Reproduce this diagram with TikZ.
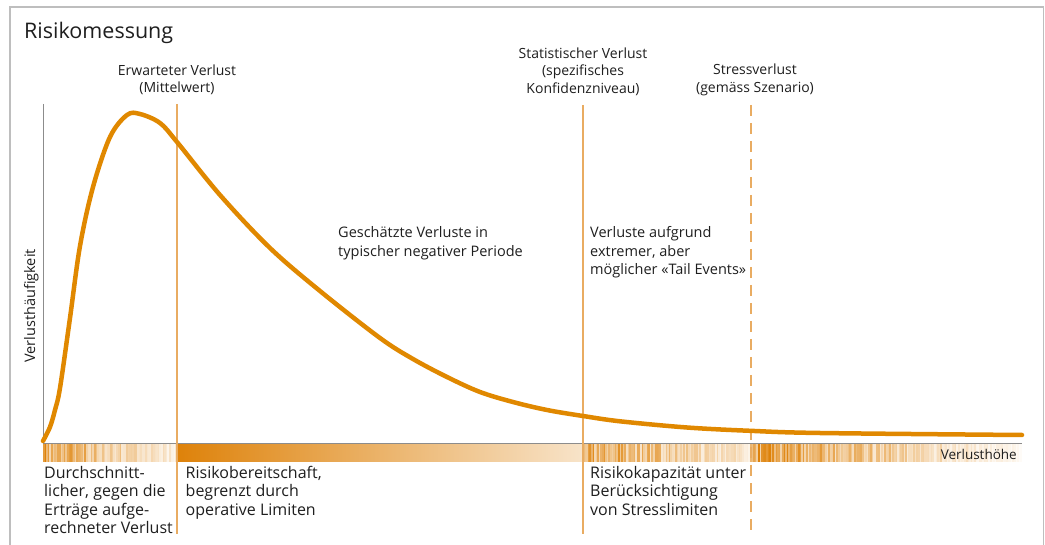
\documentclass[tikz,border=0pt]{standalone}
\usepackage{fontspec}
\setmainfont{Open Sans}
\usetikzlibrary{positioning}
\definecolor{curveorange}{RGB}{224,136,0}
\definecolor{barorange}{RGB}{222,130,10}
\definecolor{lineorange}{RGB}{233,172,98}
\definecolor{framegrey}{RGB}{190,190,190}
\definecolor{axisgrey}{RGB}{140,140,140}
\definecolor{textgrey}{RGB}{30,30,30}
\tikzset{
  toplbl/.style={inner sep=0pt, align=center, anchor=base, text=textgrey,
    font=\fontsize{14}{17.5}\selectfont},
  midlbl/.style={inner sep=0pt, align=left, anchor=base west, text=textgrey,
    font=\fontsize{14.5}{18.5}\selectfont},
  botlbl/.style={inner sep=0pt, align=left, anchor=base west, text=textgrey,
    font=\fontsize{16}{18.4}\selectfont},
  marker/.style={draw=lineorange, line width=1.3pt},
  axis/.style={draw=axisgrey, line width=1pt}
}
\newcommand{\stripeband}[4]{%
  \pgfmathtruncatemacro{\bandn}{(#2-#1)/1.6}
  \foreach \k in {0,...,\bandn}{
    \pgfmathsetmacro{\bt}{\k/\bandn}
    \pgfmathsetmacro{\bx}{#1+\bt*(#2-#1-1.6)}
    \pgfmathsetmacro{\bp}{min(100,max(2,(#3+(#4-#3)*\bt)*(0.35+0.9*rnd)))}
    \fill[barorange!\bp!white] (\bx,444.5) rectangle ++(1.7,17);
  }
}

\begin{document}
\begin{tikzpicture}[x=1pt, y=-1pt]
\useasboundingbox (0,0) rectangle (1045,545);
\pgfmathsetseed{11}
\draw[framegrey, line width=1.3pt] (10,545) -- (10,7) -- (1043.5,7) -- (1043.5,545);

\node[inner sep=0pt, anchor=base west, text=textgrey, font=\fontsize{21.5}{24}\selectfont]
  (title) at (24,39) {Risikomessung};

\stripeband{43}{177}{85}{18}
\fill[left color=barorange, right color=barorange!22!white] (177,444.5) rectangle (583,461.5);
\stripeband{583}{750}{85}{22}
\stripeband{750}{1022}{90}{6}

\coordinate (o) at (43,443.5);
\coordinate (ytop) at (43,104);
\coordinate (xend) at (1022,443.5);
\draw[axis] (ytop) -- (o) -- (xend);

\coordinate (etop) at (177,104);
\coordinate (ebot) at (177,534);
\coordinate (stop) at (583,105);
\coordinate (sbot) at (583,534);
\coordinate (xtop) at (750.5,105);
\coordinate (xbot) at (750.5,536);
\draw[marker] (etop) -- (ebot);
\draw[marker] (stop) -- (sbot);
\draw[marker, line width=2pt, dash pattern=on 11pt off 7pt] (xtop) -- (xbot);

\draw[curveorange, line width=4.5pt, line cap=round] plot[smooth, tension=0.55] coordinates {
  (43,441) (50,427) (55,410) (60,388) (70,318) (80,246) (93,187) (110,137)
  (127,115) (140,114) (160,123) (177,142) (220,195) (270,248) (320,291)
  (380,338) (413,359) (447,377) (480,392) (513,402) (547,410) (583,416)
  (620,421.3) (687,427.5) (750,430.8) (820,433) (1022,435)};

\node[toplbl] (exp) at (177,93) {Erwarteter Verlust\\(Mittelwert)};
\node[toplbl] (stat) at (583,93.5) {Statistischer Verlust\\(spezifisches\\Konfidenzniveau)};
\node[toplbl] (stress) at (755,92.5) {Stressverlust\\(gemäss Szenario)};

\node[midlbl] (typical) at (338,256.5) {Geschätzte Verluste in\\typischer negativer Periode};
\node[midlbl] (tail) at (590,275) {Verluste aufgrund\\extremer, aber\\möglicher «Tail Events»};

\node[botlbl] (avg) at (44,533.5) {Durchschnitt-\\licher, gegen die\\Erträge aufge-\\rechneter Verlust};
\node[botlbl] (appetite) at (185.5,515) {Risikobereitschaft,\\begrenzt durch\\operative Limiten};
\node[botlbl] (capacity) at (590,515) {Risikokapazität unter\\Berücksichtigung\\von Stresslimiten};

\node[inner sep=0pt, anchor=base east, text=textgrey, font=\fontsize{13.5}{16}\selectfont]
  (xlbl) at (1017,460) {Verlusthöhe};
\node[inner sep=0pt, rotate=90, anchor=base, text=textgrey, font=\fontsize{14.5}{16}\selectfont]
  (ylbl) at (35,306) {Verlusthäufigkeit};
\end{tikzpicture}
\end{document}
